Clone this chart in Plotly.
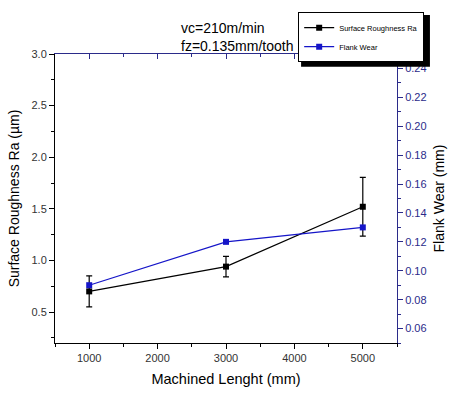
import plotly.graph_objects as go

length = [1000, 3000, 5000]
ra = [0.70, 0.94, 1.52]
ra_err = [0.15, 0.10, 0.285]
flank = [0.090, 0.120, 0.130]

NAVY = "#2b2b8a"
BLUE = "#1515c8"
FONT = "Arial, Liberation Sans, sans-serif"

fig = go.Figure()
fig.add_trace(go.Scatter(
    x=length, y=ra, name="Surface Roughness Ra", mode="lines+markers",
    line=dict(color="black", width=1.2),
    marker=dict(symbol="square", size=6, color="black"),
    error_y=dict(type="data", array=ra_err, color="black", thickness=1.2, width=3),
    xaxis="x", yaxis="y"))
fig.add_trace(go.Scatter(
    x=length, y=flank, name="Flank Wear", mode="lines+markers",
    line=dict(color=BLUE, width=1.2),
    marker=dict(symbol="square", size=6, color=BLUE),
    xaxis="x", yaxis="y2"))
# helper trace to show the top axis
fig.add_trace(go.Scatter(x=[1000], y=[1.0], mode="markers", opacity=0,
                         showlegend=False, hoverinfo="skip", xaxis="x2", yaxis="y"))

tickfont = dict(family=FONT, size=11, color="#333")
fig.update_layout(
    width=456, height=396,
    margin=dict(l=55, r=48, t=47, b=52),
    paper_bgcolor="white", plot_bgcolor="white",
    font=dict(family=FONT, color="black"),
    xaxis=dict(range=[500, 5500], tick0=0, dtick=1000, ticks="outside", ticklen=5,
               tickcolor="black", showline=True, linecolor="black", linewidth=1,
               showgrid=False, zeroline=False, tickfont=tickfont,
               minor=dict(dtick=500, tick0=0, ticks="outside", ticklen=3, tickcolor="black"),
               title=dict(text="Machined Lenght (mm)", font=dict(size=14.5), standoff=10)),
    xaxis2=dict(range=[500, 5500], overlaying="x", side="top", tick0=0, dtick=1000,
                ticks="inside", ticklen=5, tickcolor=NAVY, showline=True, linecolor=NAVY,
                showticklabels=False, showgrid=False, zeroline=False,
                minor=dict(dtick=500, tick0=0, ticks="inside", ticklen=3, tickcolor=NAVY)),
    yaxis=dict(range=[0.2, 3.0], tick0=0, dtick=0.5, tickformat=".1f", ticks="outside",
               ticklen=5, tickcolor="black", showline=True, linecolor="black",
               showgrid=False, zeroline=False, tickfont=tickfont,
               minor=dict(dtick=0.25, tick0=0, ticks="outside", ticklen=3, tickcolor="black"),
               title=dict(text="Surface Roughness Ra (µm)", font=dict(size=14), standoff=8)),
    yaxis2=dict(range=[0.05, 0.25], overlaying="y", side="right", tick0=0, dtick=0.02,
                tickformat=".2f", ticks="outside", ticklen=5, tickcolor=NAVY,
                showline=True, linecolor=NAVY, showgrid=False, zeroline=False,
                tickfont=dict(family=FONT, size=11, color=NAVY),
                minor=dict(dtick=0.01, tick0=0, ticks="outside", ticklen=3, tickcolor=NAVY),
                title=dict(text="Flank Wear (mm)", font=dict(size=14), standoff=8)),
    legend=dict(x=(306 - 55) / 353, y=(344 - 4) / 297, xanchor="left", yanchor="top",
                bgcolor="white", bordercolor="black", borderwidth=1,
                font=dict(family=FONT, size=7.5), tracegroupgap=0, itemwidth=30),
    showlegend=True,
    annotations=[dict(text="vc=210m/min<br>fz=0.135mm/tooth", xref="paper", yref="paper",
                      x=(183 - 55) / 353, y=(344 - 10) / 297, xanchor="left", yanchor="top",
                      align="left", showarrow=False, font=dict(family=FONT, size=14, color="black"))],
    shapes=[dict(type="rect", xref="paper", yref="paper", layer="above",
                 x0=(309 - 55) / 353, x1=(442 - 55) / 353,
                 y0=(344 - 60) / 297, y1=(344 - 7) / 297,
                 fillcolor="black", line=dict(width=0))],
)
fig.write_html("out.html")
